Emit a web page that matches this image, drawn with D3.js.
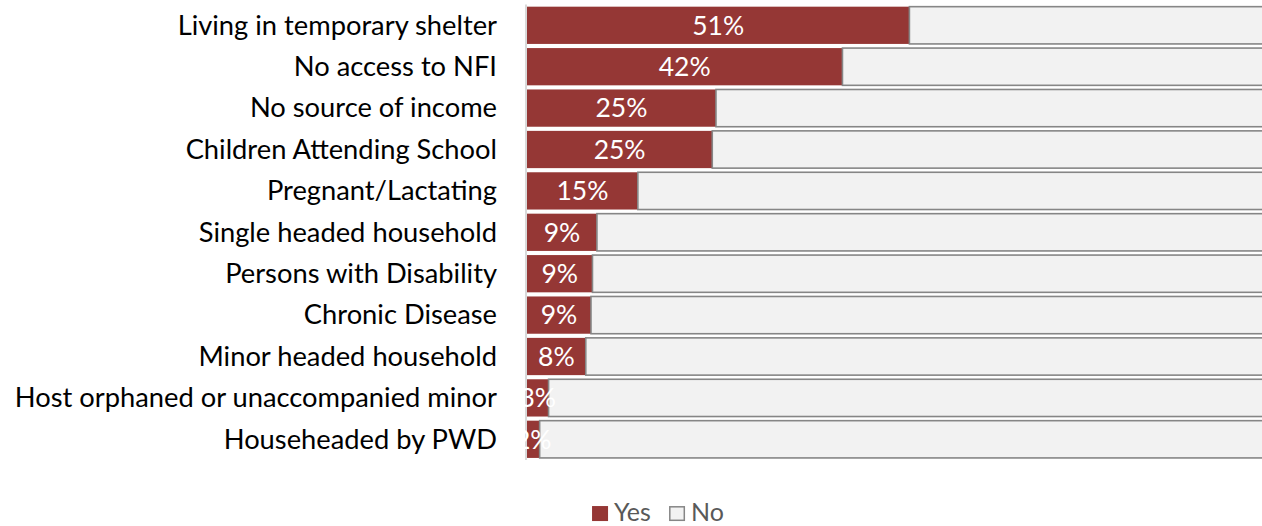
<!DOCTYPE html>
<html>
<head>
<meta charset="utf-8">
<script src="https://cdn.jsdelivr.net/npm/d3@7"></script>
<style>
  html, body { margin: 0; padding: 0; background: #fff; overflow: hidden; }
  svg { display: block; }
  text { font-family: Lato, "Open Sans", sans-serif; }
</style>
</head>
<body>
<svg id="chart" width="1262" height="526"></svg>
<script>
// Share of households reporting each vulnerability (percent)
const categories = [
  "Living in temporary shelter",
  "No access to NFI",
  "No source of income",
  "Children Attending School",
  "Pregnant/Lactating",
  "Single headed household",
  "Persons with Disability",
  "Chronic Disease",
  "Minor headed household",
  "Host orphaned or unaccompanied minor",
  "Househeaded by PWD"
];
const yesValues = [51.4, 42.4, 25.4, 24.9, 14.9, 9.4, 8.8, 8.6, 7.9, 2.9, 1.7];
const noValues = yesValues.map(v => 100 - v);
const seriesNames = ["Yes", "No"];
const seriesColors = ["#953735", "#f2f2f2"];

const svg = d3.select("#chart");
const labelSize = 27.3;
const valueSize = 26.5;
const legendSize = 25;

const x = d3.scaleLinear().domain([0, 100]).range([527, 1271]);
const y = d3.scaleBand().domain(categories).range([4.6, 460])
  .paddingInner(0.1).paddingOuter(0.05);

const rows = categories.map((c, i) => ({ cat: c, yes: yesValues[i], no: noValues[i] }));
const stacked = d3.stack().keys(["yes", "no"])(rows);

// stacked bars
svg.append("g").selectAll("g")
  .data(stacked)
  .join("g")
  .attr("fill", (d, i) => seriesColors[i])
  .attr("stroke", (d, i) => i === 1 ? "#868686" : "none")
  .attr("stroke-width", 1.6)
  .selectAll("rect")
  .data(d => d)
  .join("rect")
  .attr("x", d => x(d[0]))
  .attr("y", d => y(d.data.cat))
  .attr("width", d => x(d[1]) - x(d[0]))
  .attr("height", y.bandwidth());

// category axis line
svg.append("line")
  .attr("x1", 526).attr("x2", 526)
  .attr("y1", y.range()[0]).attr("y2", y.range()[1])
  .attr("stroke", "#d9d9d9").attr("stroke-width", 2);

// category labels
const yAxis = d3.axisLeft(y).tickSize(0).tickPadding(0);
const ag = svg.append("g").attr("transform", "translate(497,0)").call(yAxis);
ag.select(".domain").remove();
ag.selectAll("text")
  .attr("font-family", "Lato, 'Open Sans', sans-serif")
  .attr("font-size", labelSize)
  .attr("fill", "#000")
  .attr("dy", "0.34em");

// value labels inside the Yes bars
const fmt = d3.format(".0f");
svg.append("g").selectAll("text")
  .data(rows)
  .join("text")
  .attr("x", d => (x(0) + x(d.yes)) / 2)
  .attr("y", d => y(d.cat) + y.bandwidth() / 2)
  .attr("dy", "0.35em")
  .attr("text-anchor", "middle")
  .attr("font-size", valueSize)
  .attr("fill", "#fff")
  .text(d => fmt(d.yes) + "%");

// legend
const legend = svg.append("g").attr("transform", "translate(592,506)");
const items = legend.selectAll("g")
  .data(seriesNames)
  .join("g")
  .attr("transform", (d, i) => `translate(${i * 77},0)`);
items.append("rect")
  .attr("x", 0.8).attr("y", 0.8)
  .attr("width", 14.5).attr("height", 13.5)
  .attr("fill", (d, i) => seriesColors[i])
  .attr("stroke", (d, i) => i === 1 ? "#868686" : seriesColors[i])
  .attr("stroke-width", 1.5);
items.append("text")
  .attr("x", 22).attr("y", 15)
  .attr("font-size", legendSize)
  .attr("fill", "#595959")
  .text(d => d);
</script>
</body>
</html>
